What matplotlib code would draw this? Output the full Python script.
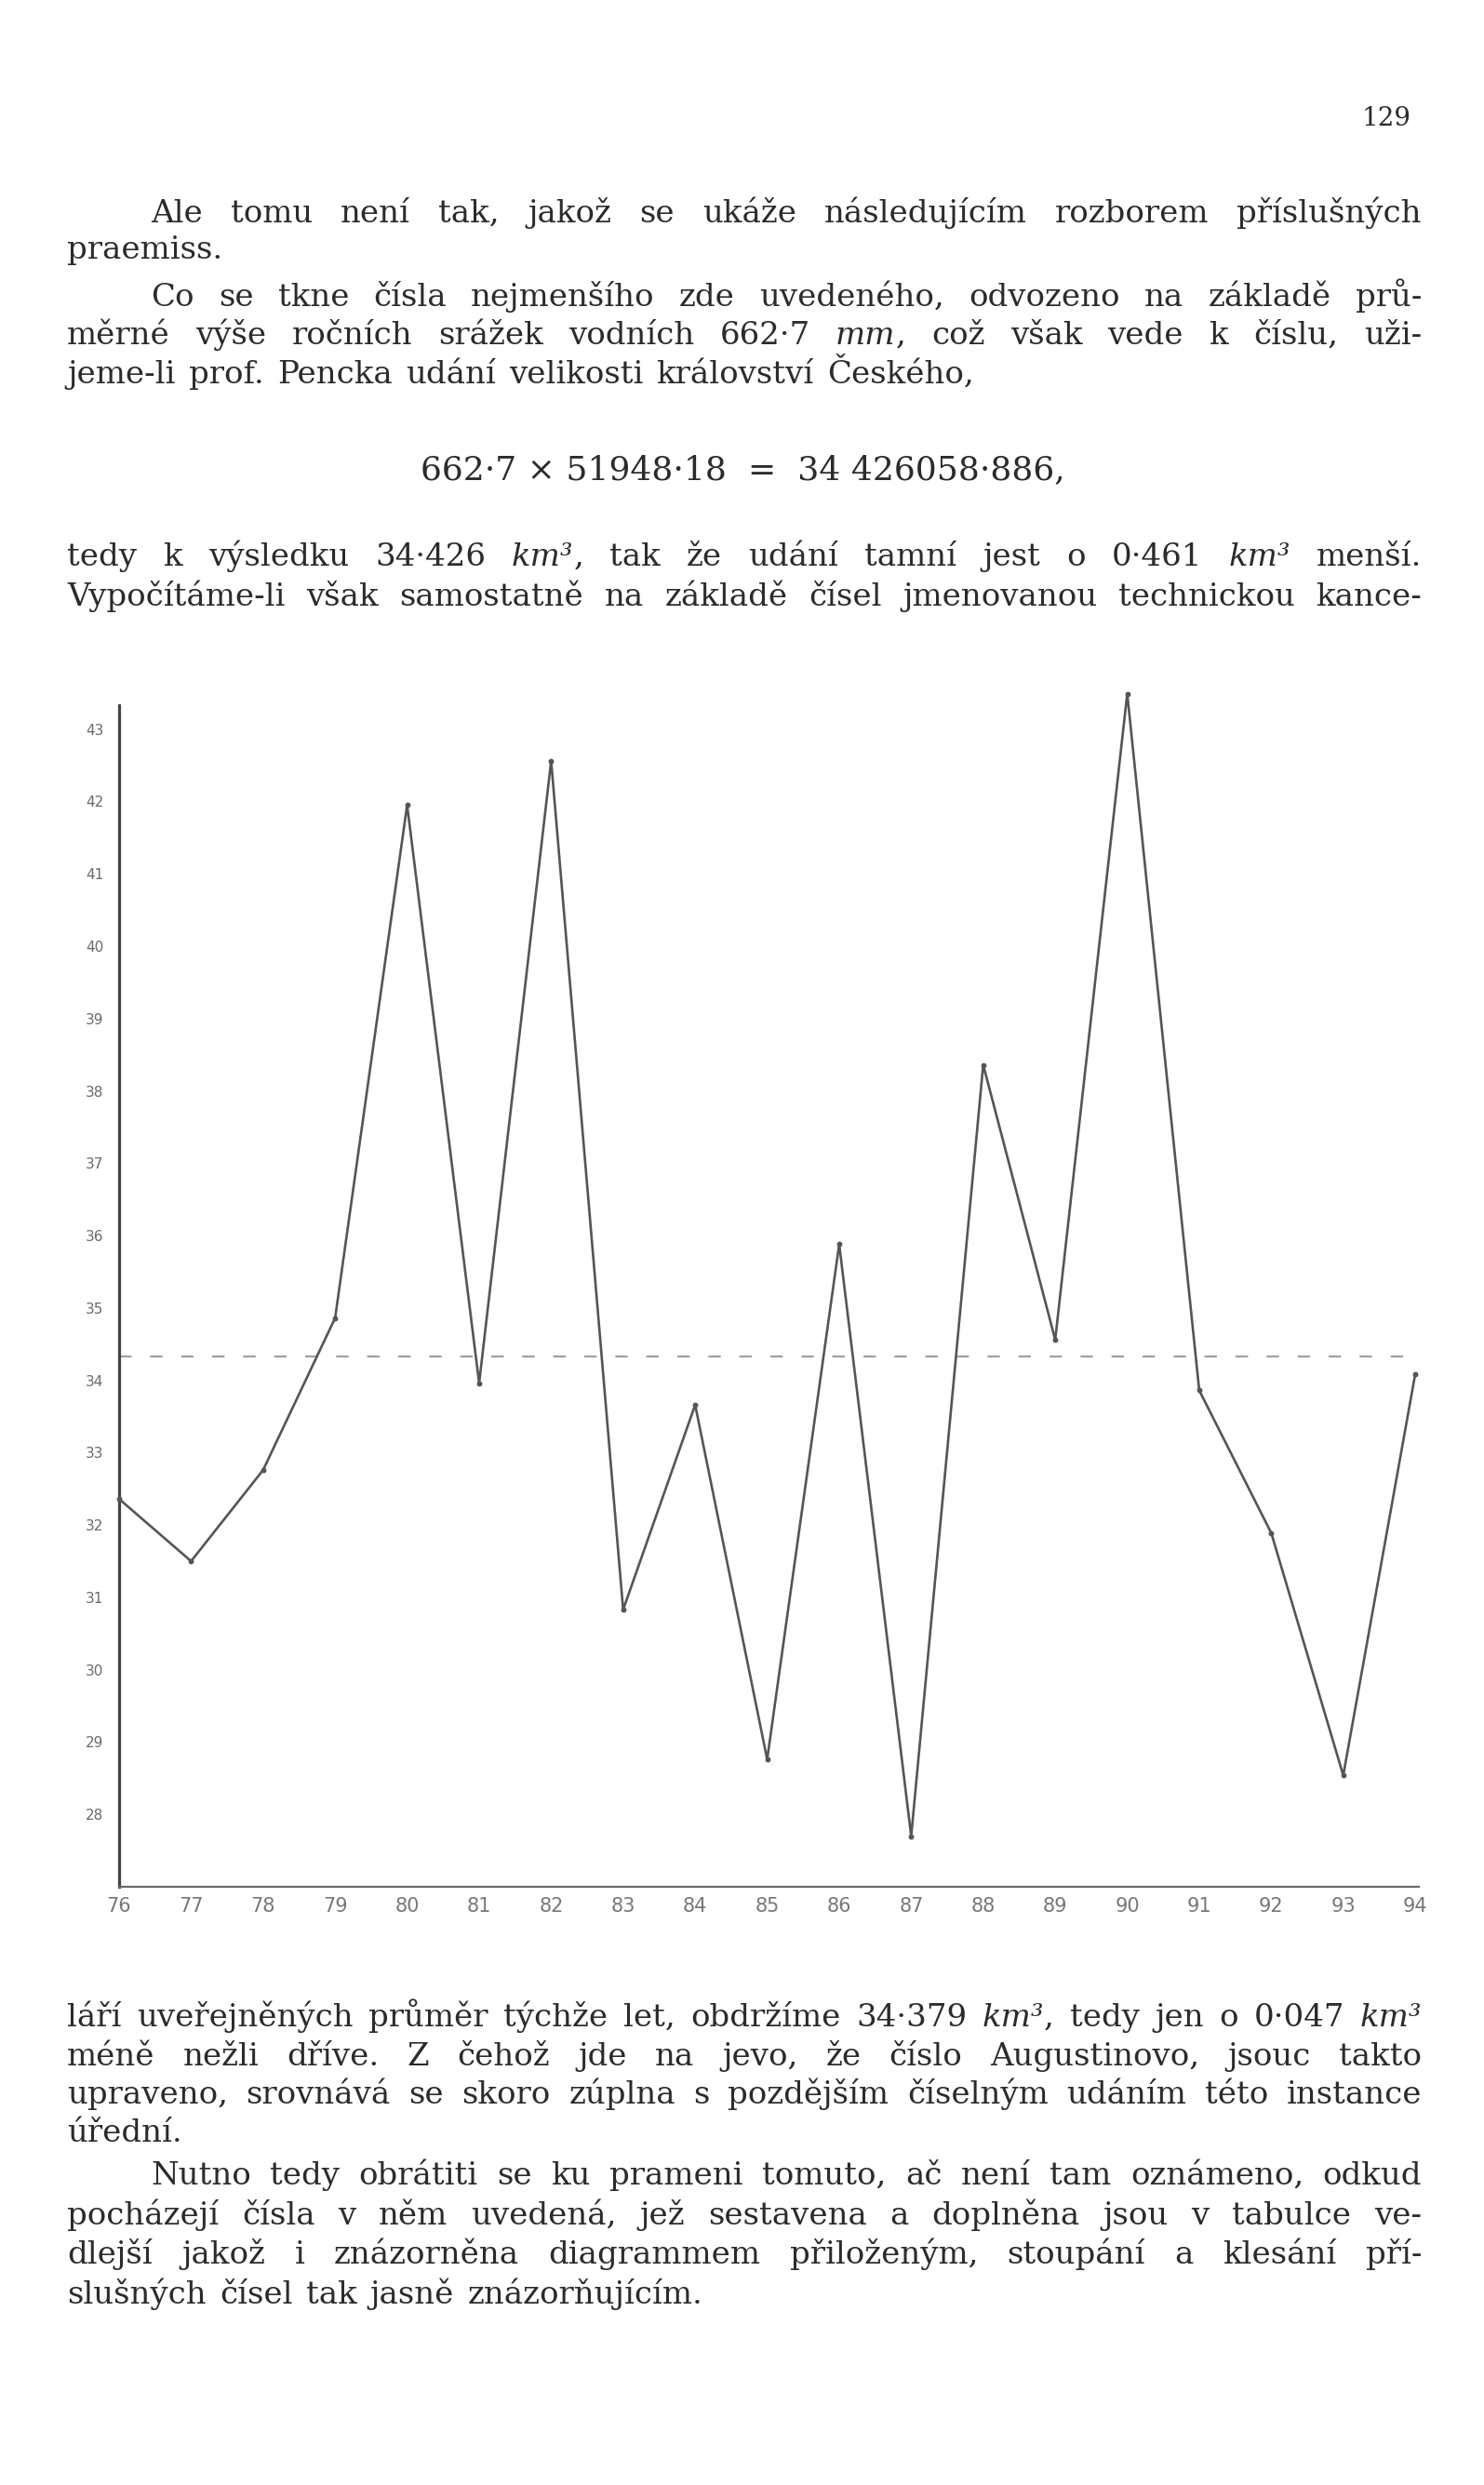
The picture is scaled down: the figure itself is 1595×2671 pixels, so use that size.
import re

import matplotlib
matplotlib.use("Agg")
import matplotlib.pyplot as plt

W, H = 1595, 2671

# chart data
years = list(range(1876, 1895))
values = [32.36, 31.50, 32.76, 34.86, 41.95, 33.96, 42.56, 30.83, 33.66, 28.76,
          35.88, 27.70, 38.36, 34.56, 43.49, 33.86, 31.89, 28.54, 34.09]
mean_value = 34.33
year_labels = ["76", "77", "78", "79", "80", "81", "82", "83", "84", "85",
               "86", "87", "88", "89", "90", "91", "92", "93", "94"]
y_ticks = list(range(28, 44))

page_number = "129"

text_top = [
    "Ale tomu není tak, jakož se ukáže následujícím rozborem příslušných",
    "praemiss.",
    "Co se tkne čísla nejmenšího zde uvedeného, odvozeno na základě prů-",
    "měrné výše ročních srážek vodních 662·7 _mm_, což však vede k číslu, uži-",
    "jeme-li prof. Pencka udání velikosti království Českého,",
]
equation = "662·7 × 51948·18  =  34 426058·886,"
text_mid = [
    "tedy k výsledku 34·426 _km³_, tak že udání tamní jest o 0·461 _km³_ menší.",
    "Vypočítáme-li však samostatně na základě čísel jmenovanou technickou kance-",
]
text_bottom = [
    "láří uveřejněných průměr týchže let, obdržíme 34·379 _km³_, tedy jen o 0·047 _km³_",
    "méně nežli dříve. Z čehož jde na jevo, že číslo Augustinovo, jsouc takto",
    "upraveno, srovnává se skoro zúplna s pozdějším číselným udáním této instance",
    "úřední.",
    "Nutno tedy obrátiti se ku prameni tomuto, ač není tam oznámeno, odkud",
    "pocházejí čísla v něm uvedená, jež sestavena a doplněna jsou v tabulce ve-",
    "dlejší jakož i znázorněna diagrammem přiloženým, stoupání a klesání pří-",
    "slušných čísel tak jasně znázorňujícím.",
]

INK = "#2b2b2b"
FONT = ["DejaVu Serif"]
SIZE = 24.5
LEFT, INDENT, RIGHT = 72, 162, 1528

fig = plt.figure(figsize=(W / 100, H / 100), dpi=100)
fig.patch.set_facecolor("white")
renderer = fig.canvas.get_renderer()


def put_line(text, y, x0, justify):
    """Place one printed line word by word, justified between x0 and RIGHT."""
    pieces = []
    for word in text.split(" "):
        segs = []
        for part in re.split(r"(_[^_]+_)", word):
            if not part:
                continue
            italic = part.startswith("_")
            t = fig.text(0, 1 - y / H, part.strip("_"), fontsize=SIZE,
                         family=FONT, style="italic" if italic else "normal",
                         va="baseline", color=INK)
            segs.append(t)
        pieces.append(segs)
    widths = [[t.get_window_extent(renderer).width for t in segs] for segs in pieces]
    total = sum(sum(ws) for ws in widths)
    if justify and len(pieces) > 1:
        gap = (RIGHT - x0 - total) / (len(pieces) - 1)
    else:
        gap = SIZE * 100 / 72 * 0.42
    x = x0
    for segs, ws in zip(pieces, widths):
        for t, w in zip(segs, ws):
            t.set_x(x / W)
            x += w
        x += gap


# page number
fig.text(1517 / W, 1 - 135 / H, page_number, ha="right", va="baseline",
         fontsize=20, family=FONT, color=INK)

# paragraphs above the diagram
top_base = [239, 278, 329, 370, 412]
top_start = [INDENT, LEFT, INDENT, LEFT, LEFT]
top_just = [True, False, True, True, False]
for line, y, x0, j in zip(text_top, top_base, top_start, top_just):
    put_line(line, y, x0, j)

fig.text(798 / W, 1 - 515 / H, equation, ha="center", va="baseline",
         fontsize=26, family=FONT, color=INK)

for line, y in zip(text_mid, [608, 651]):
    put_line(line, y, LEFT, True)

bottom_base = [2178, 2220, 2261, 2302, 2348, 2391, 2433, 2476]
bottom_start = [LEFT, LEFT, LEFT, LEFT, INDENT, LEFT, LEFT, LEFT]
bottom_just = [True, True, True, False, True, True, True, False]
for line, y, x0, j in zip(text_bottom, bottom_base, bottom_start, bottom_just):
    put_line(line, y, x0, j)

# the diagram
ax = fig.add_axes([128 / W, 1 - 2028 / H, (1525 - 128) / W, (2028 - 758) / H])
ax.set_facecolor("none")
ax.plot(years, values, color="#555555", lw=1.9, marker="o", markersize=3.2,
        clip_on=False, zorder=3)
ax.plot([years[0], years[-1]], [mean_value, mean_value], color="#a0a0a0",
        lw=1.6, dashes=(6, 9), zorder=2)

ax.set_xlim(1876, 1894.05)
ax.set_ylim(27, 43.33)
for side in ("top", "right"):
    ax.spines[side].set_visible(False)
ax.spines["left"].set_color("#444444")
ax.spines["left"].set_linewidth(2.3)
ax.spines["bottom"].set_color("#6a6a6a")
ax.spines["bottom"].set_linewidth(1.6)

ax.set_xticks(years)
ax.set_xticklabels(year_labels, family=["Liberation Sans Narrow", "DejaVu Sans"],
                   fontsize=15, color="#777777")
ax.set_yticks(y_ticks)
ax.set_yticklabels([str(v) for v in y_ticks],
                   family=["Liberation Sans Narrow", "DejaVu Sans"],
                   fontsize=11, color="#6a6a6a")
ax.tick_params(axis="both", length=0)
ax.tick_params(axis="x", pad=8)
ax.tick_params(axis="y", pad=12)

fig.savefig("out.png", dpi=100, facecolor="white")
